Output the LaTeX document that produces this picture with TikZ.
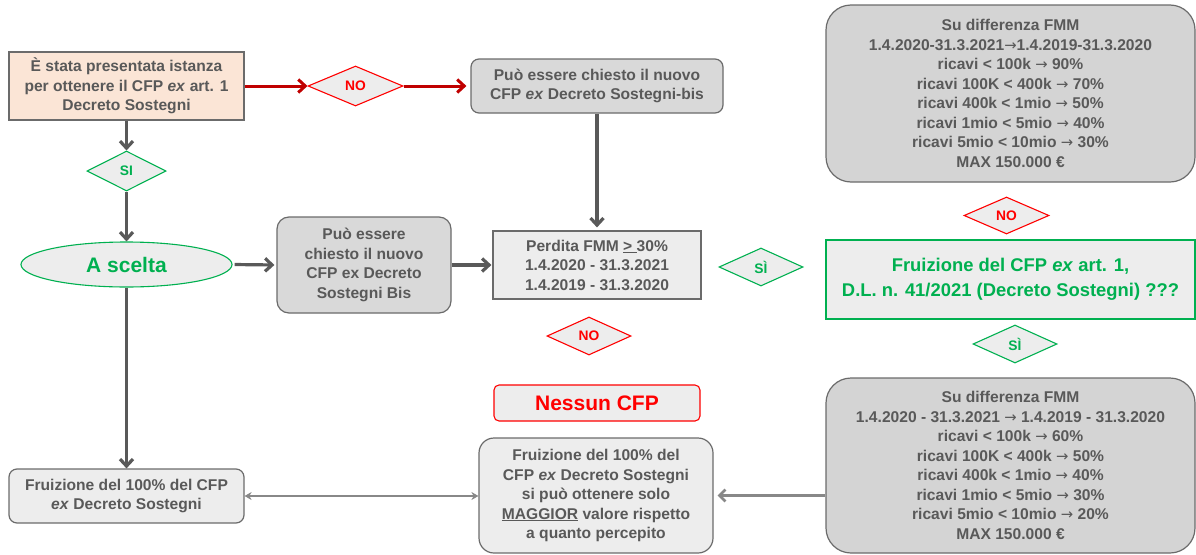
\documentclass[tikz,border=0pt]{standalone}
\usepackage{fontspec}
\setmainfont{Liberation Sans}
\newfontfamily\dejavu{DejaVu Sans}[Scale=0.95]
\usetikzlibrary{shapes.geometric,arrows.meta}
\definecolor{txtgray}{HTML}{595959}
\definecolor{edgegray}{HTML}{6B6B6B}
\definecolor{peach}{HTML}{FBE5D6}
\definecolor{lightfill}{HTML}{EDEDED}
\definecolor{midfill}{HTML}{D9D9D9}
\definecolor{darkfill}{HTML}{D4D4D4}
\definecolor{flowred}{HTML}{FF0000}
\definecolor{arrowred}{HTML}{C00000}
\definecolor{flowgreen}{HTML}{00B050}
\definecolor{thingray}{HTML}{888888}
\newcommand\arr{{\dejavu\mdseries →}}
\begin{document}
\begin{tikzpicture}[x=1pt,y=-1pt,
  box/.style={draw=edgegray, line width=1.2pt, text=txtgray, align=center,
    inner sep=0pt, font=\bfseries\fontsize{15.6}{19.5}\selectfont},
  gate/.style={diamond, aspect=2.2, inner sep=0pt, line width=1.1pt, fill=lightfill,
    font=\bfseries\fontsize{13.8}{15}\selectfont},
  redgate/.style={gate, draw=flowred, text=flowred},
  greengate/.style={gate, draw=flowgreen, text=flowgreen},
  flow/.style={draw=txtgray, line width=3.2pt, -{Straight Barb[length=7pt,width=13pt]}},
  redflow/.style={draw=arrowred, line width=3pt, -{Straight Barb[length=7pt,width=13pt]}},
]
\useasboundingbox (0,0) rectangle (1196,554);

% left column
\node[box, fill=peach, minimum width=235pt, minimum height=68pt] (start) at (126.5,86)
  {\fontsize{15.6}{20.5}\selectfont È stata presentata istanza\\per ottenere il CFP \textit{ex} art. 1\\Decreto Sostegni};
\node[greengate, minimum width=79pt, minimum height=40pt] (si1) at (126.5,171) {SI};
\node[ellipse, draw=flowgreen, line width=1.1pt, fill=lightfill, text=flowgreen,
  minimum width=211pt, minimum height=45pt, inner sep=0pt,
  font=\bfseries\fontsize{21}{24}\selectfont] (scelta) at (126.5,264.5) {A scelta};
\node[box, fill=lightfill, rounded corners=8pt, minimum width=235pt, minimum height=54pt]
  (left100) at (126.5,496) {Fruizione del 100\% del CFP\\\textit{ex} Decreto Sostegni};

% upper branch
\node[redgate, minimum width=95pt, minimum height=40pt] (noA) at (355.5,86) {NO};
\node[box, fill=midfill, rounded corners=8pt, minimum width=252pt, minimum height=54pt]
  (bis1) at (597,86) {Può essere chiesto il nuovo\\CFP \textit{ex} Decreto Sostegni-bis};

% middle
\node[box, fill=midfill, rounded corners=12pt, minimum width=174pt, minimum height=96pt]
  (bis2) at (364,265) {Può essere\\chiesto il nuovo\\CFP ex Decreto\\Sostegni Bis};
\node[box, fill=lightfill, minimum width=208pt, minimum height=68pt] (perdita) at (597,265)
  {Perdita FMM \underline{> }30\%\\1.4.2020 - 31.3.2021\\1.4.2019 - 31.3.2020};
\node[greengate, minimum width=84pt, minimum height=38pt] (siB) at (761,267) {SÌ};
\node[redgate, minimum width=84pt, minimum height=38pt] (noB) at (589,336) {NO};
\node[draw=flowred, line width=1.1pt, fill=lightfill, rounded corners=5pt, text=flowred,
  minimum width=206pt, minimum height=36pt, inner sep=0pt,
  font=\bfseries\fontsize{21}{24}\selectfont] (nessun) at (597,403) {Nessun CFP};
\node[box, fill=lightfill, rounded corners=15pt, minimum width=234pt, minimum height=115pt]
  (full) at (596,495.5) {Fruizione del 100\% del\\CFP \textit{ex} Decreto Sostegni\\si può ottenere solo\\\underline{MAGGIOR} valore rispetto\\a quanto percepito};

% right column
\node[box, fill=darkfill, rounded corners=25pt, minimum width=369pt, minimum height=177pt]
  (scale1) at (1010.5,93.5)
  {Su differenza FMM\\1.4.2020-31.3.2021\arr1.4.2019-31.3.2020\\ricavi < 100k \arr{} 90\%\\ricavi 100K < 400k \arr{} 70\%\\ricavi 400k < 1mio \arr{} 50\%\\ricavi 1mio < 5mio \arr{} 40\%\\ricavi 5mio < 10mio \arr{} 30\%\\MAX 150.000 €};
\node[redgate, minimum width=85pt, minimum height=37pt] (noC) at (1006.5,215.5) {NO};
\node[draw=flowgreen, line width=1.1pt, fill=lightfill, text=flowgreen, align=center,
  minimum width=369pt, minimum height=79pt, inner sep=0pt,
  font=\bfseries\fontsize{18.4}{25}\selectfont] (fruiz) at (1010.5,279.5)
  {Fruizione del CFP \textit{ex} art. 1,\\D.L. n. 41/2021 (Decreto Sostegni) ???};
\node[greengate, minimum width=84pt, minimum height=38pt] (siD) at (1015,344) {SÌ};
\node[box, fill=darkfill, rounded corners=25pt, minimum width=369pt, minimum height=175pt]
  (scale2) at (1010.5,465.5)
  {Su differenza FMM\\1.4.2020 - 31.3.2021 \arr{} 1.4.2019 - 31.3.2020\\ricavi < 100k \arr{} 60\%\\ricavi 100K < 400k \arr{} 50\%\\ricavi 400k < 1mio \arr{} 40\%\\ricavi 1mio < 5mio \arr{} 30\%\\ricavi 5mio < 10mio \arr{} 20\%\\MAX 150.000 €};

% connectors
\draw[redflow] (start.east) -- (noA.west);
\draw[redflow, shorten >=4pt] (noA.east) -- (bis1.west);
\draw[flow, shorten >=3pt] (bis1.south) -- (perdita.north);
\draw[flow] (start.south) -- (si1.north);
\draw[flow] (si1.south) -- (scelta.north);
\draw[flow, shorten <=2pt, shorten >=2pt] (scelta.east) -- (bis2.west);
\draw[flow, shorten >=1pt] (bis2.east) -- (perdita.west);
\draw[flow] (scelta.south) -- (left100.north);
\draw[draw=thingray, line width=2.6pt, -{Straight Barb[length=6pt,width=12pt]}, shorten >=4pt]
  (scale2.west |- full.east) -- (full.east);
\draw[draw=thingray, line width=1.8pt, {Stealth[length=7pt,width=8pt]}-{Stealth[length=7pt,width=8pt]}]
  (left100.east) -- (full.west |- left100.east);
\end{tikzpicture}
\end{document}
